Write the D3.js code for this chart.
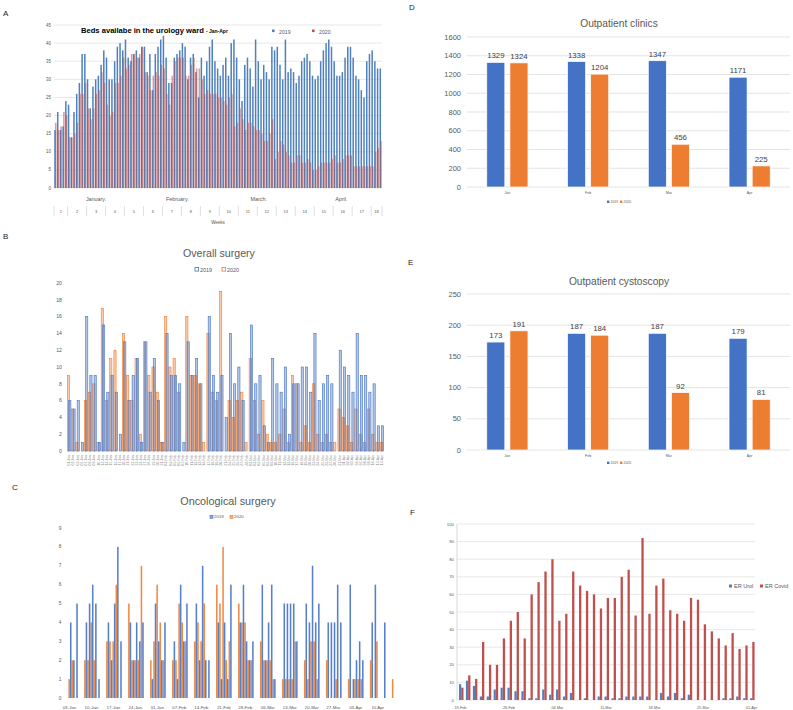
<!DOCTYPE html>
<html><head><meta charset="utf-8">
<script src="https://cdn.jsdelivr.net/npm/d3@7"></script>
<style>
body{margin:0;background:#fff}
svg{display:block}
text{font-family:"Liberation Sans",Arial,sans-serif}
</style>
</head><body>
<svg id="c" width="793" height="710"></svg>
<script>
// ---------- Panel A: beds available (daily, Jan 1 - Apr 30) ----------
const aBeds2019 = [16,21,16,17,24,23,14,21,26,29, 37,37,30,22,28,30,31,34,38,36,
  30,30,35,39,40,38,41,36,35,37, 38,36,39,39,32,37,27,37,39,41,
  42,36,29,29,36,37,38,40,39,30, 36,37,32,25,36,31,35,39,41,35,
  33,31,34,36,31,40,41,36,30,24, 34,36,33,28,41,35,30,34,32,30,
  39,38,39,34,30,41,32,33,32,29, 31,35,36,37,35,31,30,31,35,38,
  40,41,39,35,31,31,32,36,39,39, 36,31,30,27,25,35,37,38,35,33,33];
const aBeds2020 = [18,16,17,21,20,14,14,15,18,26, 26,29,22,19,22,26,27,32,29,23,
  20,21,29,29,31,36,33,34,37,37, 36,37,39,32,31,27,31,32,31,34,
  33,26,23,31,35,36,36,36,31,31, 34,36,33,33,30,26,27,26,26,26,
  25,25,24,23,25,26,17,18,22,19, 16,18,18,17,16,16,15,13,13,15,
  19,8,10,13,12,10,9,7,7,9, 9,7,7,8,7,5,5,6,7,7,
  7,7,8,9,7,7,8,9,9,9, 6,6,6,6,6,6,6,6,10,11,13];
const aYTicks = [0,5,10,15,20,25,30,35,40,45];
const aWeeks = ["1","2","3","4","5","6","7","8","9","10","11","12","13","14","15","16","17","18"];
const aMonths = ["January.","February.","March.","April."];

// ---------- Panel B: overall surgery (weekdays) ----------
const bSurg2019 = [6,5,6,1,16,9,9,1,15,7, 9,7,2,13,6,9,11,1,13,7, 11,6,1,14,9,9,8,1,13,9,
  11,8,0,16,9,7,9,4,14,8, 10,6,0,15,8,9,3,1,11,8, 7,10,2,8,8,10,10,7,14,6,
  8,9,8,0,12,10,9,7,14,9, 9,7,8,3,3];
const bSurg2020 = [9,5,1,0,6,7,8,1,17,6, 11,12,0,14,9,6,11,2,13,9, 10,7,1,16,10,11,7,0,16,9,
  9,8,1,14,7,6,19,0,6,4, 6,7,1,11,6,2,6,2,1,1, 2,5,1,9,8,1,3,1,8,2,
  1,2,1,1,5,4,3,1,5,2, 1,5,2,1,1];
const bYTicks = [0,2,4,6,8,10,12,14,16,18,20];

// ---------- Panel C: oncological surgery (weekdays) ----------
const cOnco2019 = [4,2,5, 4,5,6,5,1, 4,2,5,8,3, 4,2,4,3,4, 1,5,3,2,4, 3,1,6,3,5,
  5,2,7,2,2, 4,1,4,1,6, 4,6,3,2,3, 6,2,4,6,1, 5,5,5,5,3, 5,4,7,4,5,
  4,4,4,6,4, 6,1,2,3,2, 4,6,0,0,4, 0];
const cOnco2020 = [1,2,0, 2,2,4,2,0, 3,3,3,6,0, 5,2,2,2,7, 2,3,6,4,2, 2,2,5,4,3,
  3,4,3,5,0, 6,5,8,2,3, 5,4,4,2,2, 3,2,2,2,1, 1,1,1,1,3, 2,1,3,3,1,
  2,0,0,1,0, 1,0,1,1,1, 2,0,3,0,0, 1];
const cYTicks = [0,1,2,3,4,5,6,7,8,9];
const cTickLabels = ["03-Jan.","10-Jan.","17-Jan.","24-Jan.","31-Jan.","07-Feb.","14-Feb.","21-Feb",
  "28-Feb.","06-Mar","13-Mar","20-Mar","27-Mar.","03-Apr","10 Apr"];

// ---------- Panels D & E: monthly outpatient ----------
const months = ["Jan","Feb","Mar","Apr"];
const dClinics2019 = [1329,1338,1347,1171];
const dClinics2020 = [1324,1204,456,225];
const dYTicks = [0,200,400,600,800,1000,1200,1400,1600];
const eCysto2019 = [173,187,187,179];
const eCysto2020 = [191,184,92,81];
const eYTicks = [0,50,100,150,200,250];

// ---------- Panel F: ER visits (Feb 19 - Apr 1) ----------
const fErUrol  = [9,11,8,2,2,6,7,7,5,5, 1,1,6,3,6,2,4,0,1,0, 2,2,1,1,2,2,2,2,0,4, 2,4,1,3,0,0,0,0,1,1, 2,1,1];
const fErCovid = [7,14,12,33,20,20,35,45,50,35, 60,67,73,80,45,49,73,65,62,60, 52,58,58,70,74,48,92,49,65,69,
  51,49,45,58,57,43,39,35,31,38, 29,31,33];
const fYTicks = [0,10,20,30,40,50,60,70,80,90,100];
const fTickLabels = ["19-Feb","26-Feb","04-Mar","11-Mar","18-Mar","25-Mar","01-Apr"];

// =====================================================================
const svg = d3.select("#c");
svg.append("rect").attr("width",793).attr("height",710).attr("fill","#fff");
const GRAY = "#595959", GRID = "#D9D9D9";
const BLUE = "#4472C4", ORANGE = "#ED7D31";

function label(g, x, y, s, size, o = {}) {
  return g.append("text").attr("x", x).attr("y", y).text(s)
    .attr("font-size", size).attr("fill", o.fill || GRAY)
    .attr("text-anchor", o.anchor || "start")
    .attr("font-weight", o.weight || "normal");
}

// panel letters
const letters = [["A",3,16],["B",3,239],["C",12,490],["D",409,10],["E",408,265],["F",410,515]];
letters.forEach(([t,x,y]) => label(svg, x, y, t, 8, {fill:"#222"}));

// ---------------- Panel A ----------------
{
  const g = svg.append("g");
  const days = d3.timeDay.range(new Date(2020,0,1), new Date(2020,4,1));
  const x = d3.scaleBand().domain(d3.range(aBeds2019.length)).range([54, 382]);
  const y = d3.scaleLinear().domain([0,45]).range([188, 25]);
  g.selectAll(".ag").data(aYTicks).join("line")
    .attr("x1",54).attr("x2",382).attr("y1",d=>y(d)).attr("y2",d=>y(d))
    .attr("stroke",GRID).attr("stroke-width",0.6);
  g.selectAll(".ay").data(aYTicks).join("text")
    .attr("x",51).attr("y",d=>y(d)+1.6).attr("text-anchor","end")
    .attr("font-size",4.5).attr("fill",GRAY).text(d=>d);
  g.selectAll(".a19").data(aBeds2019).join("rect")
    .attr("x",(d,i)=>x(i)+0.25).attr("width",1.5)
    .attr("y",d=>y(d)).attr("height",d=>y(0)-y(d)).attr("fill","#4F81BD");
  g.selectAll(".a20").data(aBeds2020).join("rect")
    .attr("x",(d,i)=>x(i)+0.95).attr("width",1.55)
    .attr("y",d=>y(d)).attr("height",d=>y(0)-y(d)).attr("fill","#C0504D").attr("fill-opacity",0.56);
  // month labels
  const mStarts = days.map((d,i)=>d.getDate()===1?i:-1).filter(i=>i>=0);
  mStarts.forEach((s,k)=>{
    const e = k<mStarts.length-1 ? mStarts[k+1] : days.length;
    const cx = (x(s) + x(e-1) + x.bandwidth())/2;
    label(g, cx, 201, aMonths[k], 5.4, {anchor:"middle"});
  });
  // week row
  const wb = [0].concat(days.map((d,i)=>d.getDay()===1 && i>0 ? i : -1).filter(i=>i>=0)).concat([days.length]);
  wb.forEach(i=>{
    const xx = i<days.length ? x(i) : x(days.length-1)+x.bandwidth();
    g.append("line").attr("x1",xx).attr("x2",xx).attr("y1",206).attr("y2",216).attr("stroke","#BFBFBF").attr("stroke-width",0.5);
  });
  for (let k=0;k<wb.length-1;k++){
    const a = x(wb[k]);
    const b = wb[k+1]<days.length ? x(wb[k+1]) : x(days.length-1)+x.bandwidth();
    label(g,(a+b)/2,212.5,aWeeks[k],4,{anchor:"middle"});
  }
  label(g,(54+382)/2,224,"Weeks",4.5,{anchor:"middle"});
  // title
  const t = g.append("text").attr("x",81).attr("y",32.5).attr("font-weight","bold").attr("fill","#000");
  t.append("tspan").attr("font-size",7.6).text("Beds availabe in the urology ward ");
  t.append("tspan").attr("font-size",5).text("- Jan-Apr");
  // legend
  g.append("rect").attr("x",272).attr("y",29.5).attr("width",2.6).attr("height",2.6).attr("fill","#4F81BD");
  label(g,279,33.5,"2019",5.2);
  g.append("rect").attr("x",312).attr("y",29.5).attr("width",2.6).attr("height",2.6).attr("fill","#C0504D");
  label(g,319,33.5,"2020",5.2);
}

// ---------------- Panel B ----------------
{
  const g = svg.append("g");
  const dates = d3.timeDay.range(new Date(2020,0,1), new Date(2020,3,15)).filter(d=>d.getDay()%6!==0);
  const fmt = d3.timeFormat("%d-%b");
  const x = d3.scaleBand().domain(d3.range(bSurg2019.length)).range([67, 384]);
  const y = d3.scaleLinear().domain([0,20]).range([451, 283]);
  g.selectAll(".by").data(bYTicks).join("text")
    .attr("x",62).attr("y",d=>y(d)+1.8).attr("text-anchor","end")
    .attr("font-size",5.2).attr("fill",GRAY).text(d=>d);
  g.selectAll(".b20").data(bSurg2020).join("rect")
    .attr("x",(d,i)=>x(i)+0.4).attr("width",2.2)
    .attr("y",d=>y(d)).attr("height",d=>y(0)-y(d))
    .attr("fill",ORANGE).attr("fill-opacity",0.4).attr("stroke",ORANGE).attr("stroke-width",0.6);
  g.selectAll(".b19").data(bSurg2019).join("rect")
    .attr("x",(d,i)=>x(i)+1.7).attr("width",2.2)
    .attr("y",d=>y(d)).attr("height",d=>y(0)-y(d))
    .attr("fill",BLUE).attr("fill-opacity",0.4).attr("stroke",BLUE).attr("stroke-width",0.6);
  g.selectAll(".bx").data(dates).join("text")
    .attr("transform",(d,i)=>`translate(${x(i)+x.bandwidth()/2+1},455) rotate(-90)`)
    .attr("text-anchor","end").attr("font-size",3.4).attr("fill","#8C8C8C").text(d=>fmt(d));
  label(g,219,256.5,"Overall surgery",10.6,{anchor:"middle"});
  g.append("rect").attr("x",195).attr("y",267.5).attr("width",3.6).attr("height",3.6).attr("fill","none").attr("stroke",BLUE).attr("stroke-width",0.8);
  label(g,200,271.5,"2019",5.4);
  g.append("rect").attr("x",222).attr("y",267.5).attr("width",3.6).attr("height",3.6).attr("fill","none").attr("stroke",ORANGE).attr("stroke-width",0.8);
  label(g,227,271.5,"2020",5.4);
}

// ---------------- Panel C ----------------
{
  const g = svg.append("g");
  const start = new Date(2020,0,1);
  const dates = d3.timeDay.range(start, new Date(2020,3,14)).filter(d=>d.getDay()%6!==0);
  const idx = dates.map(d=>d3.timeDay.count(start,d));
  const x = d3.scaleLinear().domain([-0.5, 103.5]).range([68.4, 395]);
  const y = d3.scaleLinear().domain([0,9]).range([698, 528]);
  g.selectAll(".cy").data(cYTicks).join("text")
    .attr("x",61.5).attr("y",d=>y(d)+1.6).attr("text-anchor","end")
    .attr("font-size",4.8).attr("fill",GRAY).text(d=>d);
  g.selectAll(".c20").data(cOnco2020).join("rect")
    .attr("x",(d,i)=>x(idx[i])-1.55).attr("width",1.55)
    .attr("y",d=>y(d)).attr("height",d=>y(0)-y(d)).attr("fill",ORANGE).attr("fill-opacity",0.9);
  g.selectAll(".c19").data(cOnco2019).join("rect")
    .attr("x",(d,i)=>x(idx[i])).attr("width",1.55)
    .attr("y",d=>y(d)).attr("height",d=>y(0)-y(d)).attr("fill",BLUE).attr("fill-opacity",0.9);
  cTickLabels.forEach((t,k)=>label(g,x(7*k),708.5,t,4.4,{anchor:"middle"}));
  label(g,228,504.5,"Oncological surgery",10.8,{anchor:"middle"});
  g.append("rect").attr("x",210).attr("y",515.3).attr("width",3).attr("height",3).attr("fill","#8FAADC").attr("stroke",BLUE).attr("stroke-width",0.6);
  label(g,214,518.4,"2019",4.4);
  g.append("rect").attr("x",230).attr("y",515.3).attr("width",3).attr("height",3).attr("fill","#F4B183").attr("stroke",ORANGE).attr("stroke-width",0.6);
  label(g,234,518.4,"2020",4.4);
}

// ---------------- Panels D & E ----------------
function monthly(v19, v20, ticks, yMax, y0, yTop, title, titleY, xLabY, legY) {
  const g = svg.append("g");
  const x0 = d3.scaleBand().domain(months).range([467, 790]).paddingInner(0.49).paddingOuter(0.245);
  const x1 = d3.scaleBand().domain(["2019","2020"]).range([0, x0.bandwidth()]).paddingInner(0.22);
  const y = d3.scaleLinear().domain([0,yMax]).range([y0, yTop]);
  g.selectAll(".g").data(ticks).join("line")
    .attr("x1",467).attr("x2",790).attr("y1",d=>y(d)).attr("y2",d=>y(d))
    .attr("stroke",GRID).attr("stroke-width",0.7);
  g.selectAll(".yl").data(ticks).join("text")
    .attr("x",461).attr("y",d=>y(d)+2.6).attr("text-anchor","end")
    .attr("font-size",7.5).attr("fill",GRAY).text(d=>d);
  const series = [["2019",v19,BLUE],["2020",v20,ORANGE]];
  series.forEach(([k,vals,col])=>{
    g.selectAll(".b"+k).data(vals).join("rect")
      .attr("x",(d,i)=>x0(months[i])+x1(k)).attr("width",x1.bandwidth())
      .attr("y",d=>y(d)).attr("height",d=>y(0)-y(d))
      .attr("fill",col).attr("stroke","#fff").attr("stroke-width",0.7);
    g.selectAll(".v"+k).data(vals).join("text")
      .attr("x",(d,i)=>x0(months[i])+x1(k)+x1.bandwidth()/2).attr("y",d=>y(d)-4)
      .attr("text-anchor","middle").attr("font-size",7.8).attr("fill","#404040").text(d=>d);
  });
  months.forEach(m=>label(g,x0(m)+x0.bandwidth()/2,xLabY,m,3.6,{anchor:"middle"}));
  label(g,619,titleY,title,10.2,{anchor:"middle"});
  g.append("rect").attr("x",607).attr("y",legY-2.4).attr("width",2.4).attr("height",2.4).attr("fill",BLUE);
  label(g,610.5,legY,"2019",3.4);
  g.append("rect").attr("x",620).attr("y",legY-2.4).attr("width",2.4).attr("height",2.4).attr("fill",ORANGE);
  label(g,623.5,legY,"2020",3.4);
}
monthly(dClinics2019, dClinics2020, dYTicks, 1600, 187, 37, "Outpatient clinics", 26.5, 194, 203);
monthly(eCysto2019, eCysto2020, eYTicks, 250, 450, 294, "Outpatient cystoscopy", 284.5, 456.5, 464);

// ---------------- Panel F ----------------
{
  const g = svg.append("g");
  const x = d3.scaleBand().domain(d3.range(fErCovid.length)).range([457, 755]);
  const y = d3.scaleLinear().domain([0,100]).range([700, 524]);
  g.selectAll(".fg").data(fYTicks).join("line")
    .attr("x1",457).attr("x2",755).attr("y1",d=>y(d)).attr("y2",d=>y(d))
    .attr("stroke",GRID).attr("stroke-width",0.6);
  g.append("line").attr("x1",457).attr("x2",457).attr("y1",524).attr("y2",700).attr("stroke","#BFBFBF").attr("stroke-width",0.6);
  g.selectAll(".fy").data(fYTicks).join("text")
    .attr("x",454).attr("y",d=>y(d)+1.5).attr("text-anchor","end")
    .attr("font-size",4.3).attr("fill",GRAY).text(d=>d);
  g.selectAll(".fu").data(fErUrol).join("rect")
    .attr("x",(d,i)=>x(i)+2.0).attr("width",2.2)
    .attr("y",d=>y(d)).attr("height",d=>y(0)-y(d)).attr("fill","#4F81BD");
  g.selectAll(".fc").data(fErCovid).join("rect")
    .attr("x",(d,i)=>x(i)+4.2).attr("width",2.3)
    .attr("y",d=>y(d)).attr("height",d=>y(0)-y(d)).attr("fill","#C0504D");
  fTickLabels.forEach((t,k)=>label(g,x(7*k)+x.bandwidth()/2,708.5,t,3.8,{anchor:"middle"}));
  g.append("rect").attr("x",729).attr("y",584.5).attr("width",3).attr("height",3).attr("fill","#4F81BD");
  label(g,734,588,"ER Urol",5.5);
  g.append("rect").attr("x",760).attr("y",584.5).attr("width",3).attr("height",3).attr("fill","#C0504D");
  label(g,765,588,"ER Covid",5.5);
}
</script>
</body></html>
